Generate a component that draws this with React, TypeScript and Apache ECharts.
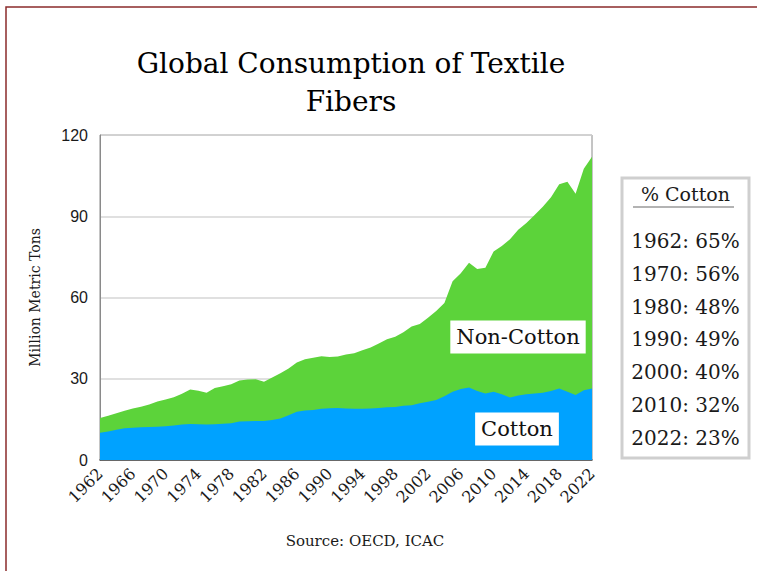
import React, { useEffect, useRef } from "react";
import * as echarts from "echarts";

const years: string[] = Array.from({ length: 61 }, (_, i) => String(1962 + i));

// Total fiber consumption (top of green area), million metric tons
const totalFibers: number[] = [
  15.5, 16.3, 17.3, 18.2, 19.0, 19.7, 20.5, 21.6, 22.3, 23.2,
  24.5, 26.0, 25.6, 24.8, 26.6, 27.2, 28.0, 29.4, 29.7, 29.8,
  28.9, 30.5, 32.0, 33.8, 36.0, 37.2, 37.8, 38.3, 38.0, 38.2,
  39.0, 39.4, 40.5, 41.5, 43.0, 44.6, 45.5, 47.2, 49.3, 50.2,
  52.5, 55.0, 58.0, 66.0, 69.0, 72.8, 70.5, 71.0, 77.0, 79.0,
  81.5, 85.0, 87.5, 90.5, 93.5, 97.0, 101.8, 102.7, 98.3, 107.5,
  112.0,
];

// Cotton consumption (top of blue area), million metric tons
const cottonFibers: number[] = [
  10.1, 10.5, 11.2, 11.7, 11.9, 12.1, 12.2, 12.3, 12.5, 12.7,
  13.1, 13.3, 13.2, 13.1, 13.2, 13.4, 13.6, 14.2, 14.3, 14.4,
  14.4, 14.8, 15.3, 16.5, 17.8, 18.3, 18.5, 18.9, 19.1, 19.2,
  19.0, 18.9, 18.9, 19.0, 19.2, 19.5, 19.6, 20.0, 20.2, 21.0,
  21.5, 22.2, 23.5, 25.2, 26.2, 26.8, 25.5, 24.6, 25.2, 24.3,
  23.1, 23.8, 24.3, 24.6, 24.8, 25.5, 26.4, 25.2, 24.0, 25.8,
  26.4,
];

const pctYears: string[] = ["1962", "1970", "1980", "1990", "2000", "2010", "2022"];
const pctCotton: number[] = [65, 56, 48, 49, 40, 32, 23];

const TYPE_FONT = "'DejaVu Serif', serif";
const GREEN = "#5cd33a";
const BLUE = "#00a2ff";

export default function App() {
  const ref = useRef<HTMLDivElement>(null);

  useEffect(() => {
    document.body.style.margin = "0";
    const chart = echarts.init(ref.current!, null, { renderer: "svg" });

    const boxX = 622;
    const boxY = 178;
    const boxW = 127;
    const boxH = 280;
    const pctTexts: any[] = pctYears.map((y, i) => ({
      type: "text",
      z: 20,
      style: {
        text: `${y}: ${pctCotton[i]}%`,
        x: boxX + boxW / 2,
        y: 241 + i * 32.8,
        textAlign: "center",
        textVerticalAlign: "middle",
        font: `20px ${TYPE_FONT}`,
        fill: "#1a1a1a",
      },
    }));

    chart.setOption({
      animation: false,
      backgroundColor: "#fff",
      title: {
        text: "Global Consumption of Textile\nFibers",
        left: 346,
        top: 39,
        textAlign: "center",
        textStyle: {
          fontFamily: TYPE_FONT,
          fontSize: 28,
          fontWeight: "normal",
          color: "#000",
          lineHeight: 38,
        },
      },
      grid: {
        left: 100,
        top: 135,
        right: 165,
        bottom: 111,
        show: true,
        borderColor: "#8a8a8a",
        borderWidth: 1,
      },
      xAxis: {
        type: "category",
        data: years,
        boundaryGap: false,
        axisLine: { show: true, lineStyle: { color: "#444", width: 1.5 } },
        axisTick: { show: false },
        axisLabel: {
          interval: 3,
          rotate: 45,
          margin: 11,
          fontFamily: TYPE_FONT,
          fontSize: 16,
          color: "#1a1a1a",
        },
        splitLine: { show: false },
      },
      yAxis: {
        type: "value",
        min: 0,
        max: 120,
        interval: 30,
        name: "Million Metric Tons",
        nameLocation: "middle",
        nameGap: 58,
        nameTextStyle: {
          fontFamily: TYPE_FONT,
          fontSize: 14,
          color: "#1a1a1a",
        },
        axisLine: { show: true, lineStyle: { color: "#8a8a8a", width: 1 } },
        axisTick: { show: false },
        axisLabel: {
          margin: 12,
          fontFamily: "'Liberation Sans', Arial, sans-serif",
          fontSize: 16,
          color: "#1a1a1a",
        },
        splitLine: { show: true, lineStyle: { color: "#d6d6d6", width: 1.5 } },
      },
      series: [
        {
          name: "Non-Cotton",
          type: "line",
          data: totalFibers,
          symbol: "none",
          lineStyle: { width: 0 },
          areaStyle: { color: GREEN, opacity: 1 },
          z: 2,
        },
        {
          name: "Cotton",
          type: "line",
          data: cottonFibers,
          symbol: "none",
          lineStyle: { width: 0 },
          areaStyle: { color: BLUE, opacity: 1 },
          z: 3,
        },
      ],
      graphic: [
        {
          type: "rect",
          z: 0,
          silent: true,
          shape: { x: 6, y: 7, width: 800, height: 620 },
          style: { fill: "none", stroke: "#8b2b2b", lineWidth: 1.5 },
        },
        {
          type: "text",
          z: 20,
          style: {
            text: "Non-Cotton",
            x: 518,
            y: 337,
            textAlign: "center",
            textVerticalAlign: "middle",
            font: `21px ${TYPE_FONT}`,
            fill: "#111",
            backgroundColor: "#fff",
            padding: [6, 6, 6, 6],
          },
        },
        {
          type: "text",
          z: 20,
          style: {
            text: "Cotton",
            x: 517,
            y: 429,
            textAlign: "center",
            textVerticalAlign: "middle",
            font: `21px ${TYPE_FONT}`,
            fill: "#111",
            backgroundColor: "#fff",
            padding: [6, 6, 6, 6],
          },
        },
        {
          type: "text",
          z: 20,
          style: {
            text: "Source: OECD, ICAC",
            x: 365,
            y: 541,
            textAlign: "center",
            textVerticalAlign: "middle",
            font: `15px ${TYPE_FONT}`,
            fill: "#1a1a1a",
          },
        },
        {
          type: "rect",
          z: 10,
          shape: { x: boxX, y: boxY, width: boxW, height: boxH },
          style: { fill: "#fff", stroke: "#cfcfcf", lineWidth: 3 },
        },
        {
          type: "text",
          z: 20,
          style: {
            text: "% Cotton",
            x: boxX + boxW / 2,
            y: 194,
            textAlign: "center",
            textVerticalAlign: "middle",
            font: `19px ${TYPE_FONT}`,
            fill: "#1a1a1a",
          },
        },
        {
          type: "line",
          z: 20,
          shape: { x1: 633, y1: 207, x2: 734, y2: 207 },
          style: { stroke: "#9a9a9a", lineWidth: 1.5 },
        },
        ...pctTexts,
      ],
    });

    return () => chart.dispose();
  }, []);

  return <div ref={ref} style={{ width: 757, height: 571 }} />;
}
